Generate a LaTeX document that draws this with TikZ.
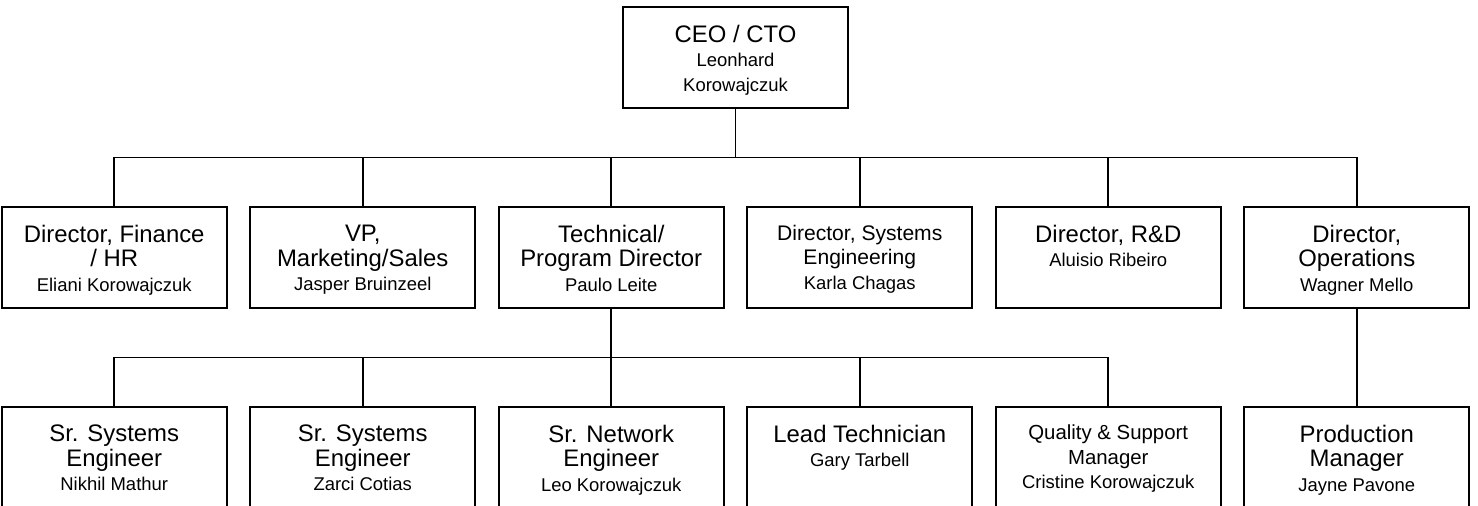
\documentclass[tikz,border=0pt]{standalone}
\usepackage{fontspec}
\setmainfont{Liberation Sans}
\usetikzlibrary{trees}

% box text: title (optional size) and name, set at the top of the box
\newcommand{\orgbox}[3][13.6]{\parbox[c][2.02cm][t]{4.5cm}{\centering\vspace*{0.36cm}%
  \fontsize{#1}{14}\selectfont #2\\
  \fontsize{10.5}{14}\selectfont #3\par}}

\begin{document}
\begin{tikzpicture}[level distance=4cm,
  level 1/.style={sibling distance=4.97cm},
  level 2/.style={sibling distance=4.97cm},
  every node/.style={rectangle,draw,line width=1.1pt,inner sep=0pt,outer sep=0pt},
  edge from parent/.style={draw,line width=1.1pt},
  edge from parent path={(\tikzparentnode.south) -- +(0,-0.99cm) -| (\tikzchildnode.north)}]
  \path[use as bounding box,clip] (0,0) rectangle (29.56,-10.1);
  \node (ceo) at (14.71,-1.15) {\orgbox{CEO / CTO}{Leonhard\\Korowajczuk}}
    child {node (fin) {\orgbox{Director, Finance\\/ HR}{Eliani Korowajczuk}}}
    child {node (vp) {\orgbox{VP,\\Marketing/Sales}{Jasper Bruinzeel}}}
    child {node (tech) {\orgbox{Technical/\\Program Director}{Paulo Leite}}
      child {node (sse1) {\orgbox{Sr. Systems\\Engineer}{Nikhil Mathur}}}
      child {node (sse2) {\orgbox{Sr. Systems\\Engineer}{Zarci Cotias}}}
      child {node (sne) {\orgbox{Sr. Network\\Engineer}{Leo Korowajczuk}}}
      child {node (lead) {\orgbox{Lead Technician}{Gary Tarbell}}}
      child {node (qsm) {\orgbox[11.6]{Quality \& Support\\Manager}{Cristine Korowajczuk}}}
    }
    child {node (syseng) {\orgbox[12]{Director, Systems\\Engineering}{Karla Chagas}}}
    child {node (rnd) {\orgbox{Director, R\&D}{Aluisio Ribeiro}}}
    child {node (ops) {\orgbox{Director,\\Operations}{Wagner Mello}}
      child {node (prod) {\orgbox{Production\\Manager}{Jayne Pavone}}}
    };
\end{tikzpicture}
\end{document}
